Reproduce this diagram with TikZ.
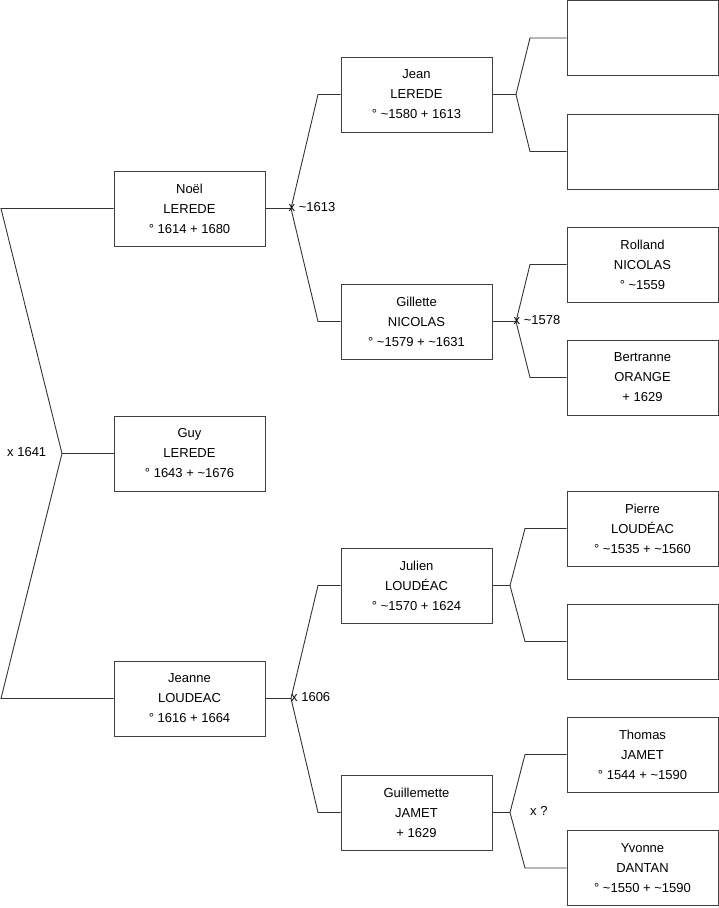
\documentclass[tikz,border=0pt]{standalone}
\usepackage{fontspec}
\setmainfont{Liberation Sans}
\begin{document}
\begin{tikzpicture}[x=1pt,y=-1pt,
  person/.style={draw=black!75, line width=1pt, minimum width=151pt, minimum height=75pt,
    align=center, inner sep=0pt, font=\fontsize{13}{20}\selectfont, fill=white},
  link/.style={draw=black!80, line width=0.9pt},
  union/.style={anchor=west, inner sep=0pt, font=\fontsize{13}{14}\selectfont}]
\useasboundingbox (0,0) rectangle (719,908);
% column 1
\node[person] (noel) at (189.5,208.5) {Noël\\LEREDE\\° 1614 + 1680};
\node[person] (guy) at (189.5,453.5) {Guy\\LEREDE\\° 1643 + \textasciitilde1676};
\node[person] (jeanne) at (189.5,698.5) {Jeanne\\LOUDEAC\\° 1616 + 1664};
% column 2
\node[person] (jean) at (416.5,94.5) {Jean\\LEREDE\\° \textasciitilde1580 + 1613};
\node[person] (gillette) at (416.5,321.5) {Gillette\\NICOLAS\\° \textasciitilde1579 + \textasciitilde1631};
\node[person] (julien) at (416.5,585.5) {Julien\\LOUDÉAC\\° \textasciitilde1570 + 1624};
\node[person] (guillemette) at (416.5,812.5) {Guillemette\\JAMET\\+ 1629};
% column 3
\node[person] (e1) at (642.5,38) {};
\node[person] (e2) at (642.5,151.5) {};
\node[person] (rolland) at (642.5,264.5) {Rolland\\NICOLAS\\° \textasciitilde1559};
\node[person] (bertranne) at (642.5,377.5) {Bertranne\\ORANGE\\+ 1629};
\node[person] (pierre) at (642.5,528.5) {Pierre\\LOUDÉAC\\° \textasciitilde1535 + \textasciitilde1560};
\node[person] (e3) at (642.5,641.5) {};
\node[person] (thomas) at (642.5,754.5) {Thomas\\JAMET\\° 1544 + \textasciitilde1590};
\node[person] (yvonne) at (642.5,868) {Yvonne\\DANTAN\\° \textasciitilde1550 + \textasciitilde1590};
% forks
\coordinate (fR) at (62,453.5);
\coordinate (rA) at (1,208.5);
\coordinate (rB) at (1,698.5);
\coordinate (fN) at (291,208.5);
\coordinate (nA) at (318,94.5);
\coordinate (nB) at (318,321.5);
\coordinate (fJ) at (291,698.5);
\coordinate (jA) at (318,585.5);
\coordinate (jB) at (318,812.5);
\coordinate (fJe) at (516,94.5);
\coordinate (jeA) at (530,38);
\coordinate (jeB) at (530,151.5);
\coordinate (fG) at (516,321.5);
\coordinate (gA) at (530,264.5);
\coordinate (gB) at (530,377.5);
\coordinate (fJu) at (510,585.5);
\coordinate (juA) at (525,528.5);
\coordinate (juB) at (525,641.5);
\coordinate (fGu) at (510,812.5);
\coordinate (guA) at (525,754.5);
\coordinate (guB) at (525,868);
% connectors
\draw[link] (noel.west) -- (rA) -- (fR) -- (rB) -- (jeanne.west);
\draw[link] (guy.west) -- (fR);
\draw[link] (jean.west) -- (nA) -- (fN) -- (nB) -- (gillette.west);
\draw[link] (noel.east) -- (fN);
\draw[link] (julien.west) -- (jA) -- (fJ) -- (jB) -- (guillemette.west);
\draw[link] (jeanne.east) -- (fJ);
\draw[link] (e1.west) -- (jeA) -- (fJe) -- (jeB) -- (e2.west);
\draw[link] (jean.east) -- (fJe);
\draw[link] (rolland.west) -- (gA) -- (fG) -- (gB) -- (bertranne.west);
\draw[link] (gillette.east) -- (fG);
\draw[link] (pierre.west) -- (juA) -- (fJu) -- (juB) -- (e3.west);
\draw[link] (julien.east) -- (fJu);
\draw[link] (thomas.west) -- (guA) -- (fGu) -- (guB) -- (yvonne.west);
\draw[link] (guillemette.east) -- (fGu);
% union labels
\node[union] (u1) at (7,452) {x 1641};
\node[union] (u2) at (288.5,207) {x \textasciitilde1613};
\node[union] (u3) at (513.5,320) {x \textasciitilde1578};
\node[union] (u4) at (291,697) {x 1606};
\node[union] (u5) at (530,811) {x ?};
\end{tikzpicture}
\end{document}
